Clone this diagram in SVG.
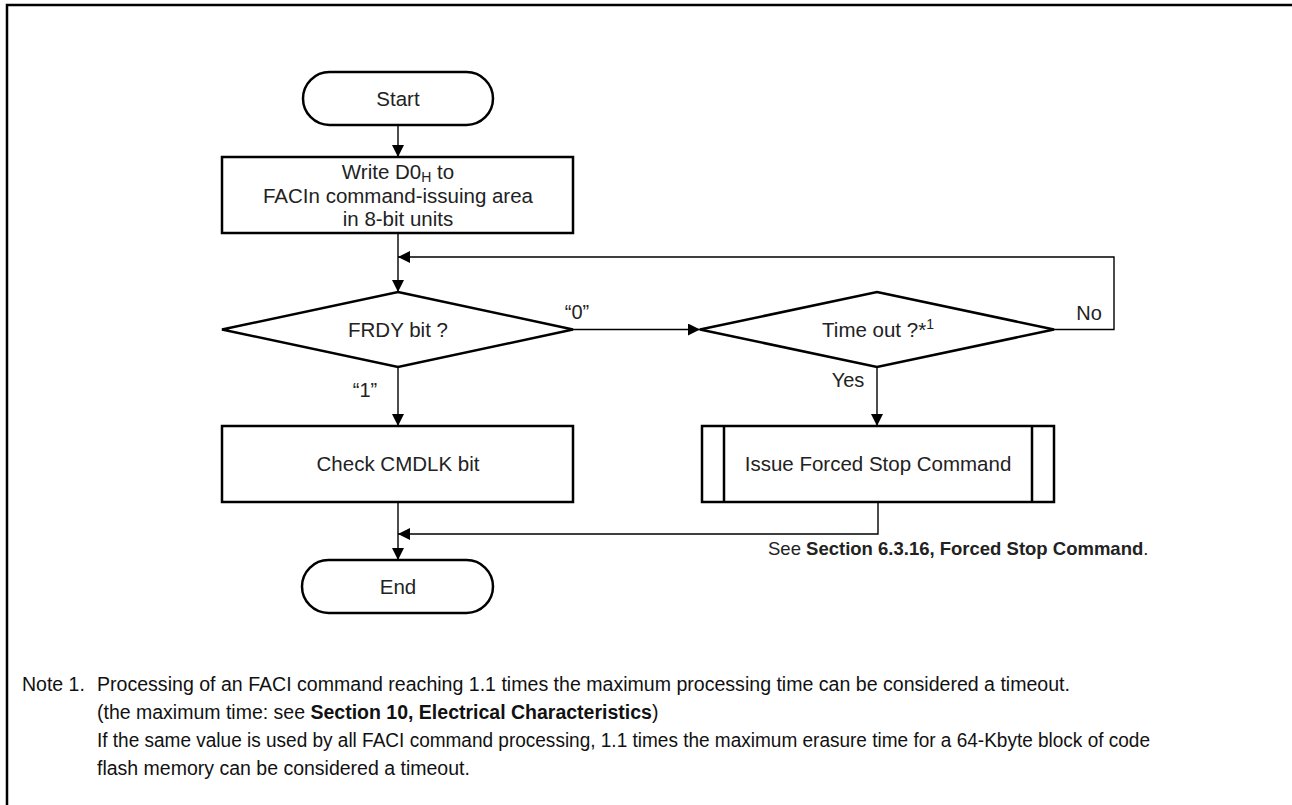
<svg xmlns="http://www.w3.org/2000/svg" width="1292" height="805" viewBox="0 0 1292 805">
<defs>
<marker id="arr" viewBox="0 0 12 12" refX="12" refY="6" markerWidth="12" markerHeight="12" markerUnits="userSpaceOnUse" orient="auto">
<path d="M0,0 L12,6 L0,12 Z" fill="#000"/>
</marker>
<style>
.shape{fill:#fff;stroke:#000;stroke-width:2.5}
.conn{fill:none;stroke:#000;stroke-width:1.4}
.t{font-family:"Liberation Sans",Arial,sans-serif;font-size:20.5px;fill:#222;text-anchor:middle}
.lbl{font-family:"Liberation Sans",Arial,sans-serif;font-size:20px;fill:#222}
.see{font-family:"Liberation Sans",Arial,sans-serif;font-size:18.5px;fill:#222}
.note{font-family:"Liberation Sans",Arial,sans-serif;font-size:19.5px;fill:#111}
.b{font-weight:bold}
</style>
</defs>
<rect width="1292" height="805" fill="#fff"/>
<path d="M7,805 V5 H1292" fill="none" stroke="#000" stroke-width="2.5"/>

<g id="connectors">
<path class="conn" d="M398,125 V157" marker-end="url(#arr)"/>
<path class="conn" d="M398,233 V292" marker-end="url(#arr)"/>
<path class="conn" d="M573,329.5 H700" marker-end="url(#arr)"/>
<path class="conn" d="M1054,329.5 H1114 V257 H398" marker-end="url(#arr)"/>
<path class="conn" d="M398,367 V426" marker-end="url(#arr)"/>
<path class="conn" d="M877,367 V426" marker-end="url(#arr)"/>
<path class="conn" d="M398,502 V560" marker-end="url(#arr)"/>
<path class="conn" d="M878,502 V534 H398" marker-end="url(#arr)"/>
<text class="lbl" x="577" y="319" text-anchor="middle">“0”</text>
<text class="lbl" x="365" y="397" text-anchor="middle">“1”</text>
<text class="lbl" x="1089" y="320" text-anchor="middle">No</text>
<text class="lbl" x="848" y="387" text-anchor="middle">Yes</text>
</g>

<g id="start">
<rect class="shape" x="303" y="72" width="190" height="53" rx="26.5"/>
<text class="t" x="398" y="106">Start</text>
</g>

<g id="write">
<rect class="shape" x="222" y="157" width="351" height="76"/>
<text class="t" x="398" y="179">Write D0<tspan font-size="14" dy="3">H</tspan><tspan dy="-3"> to</tspan></text>
<text class="t" x="398" y="203">FACIn command-issuing area</text>
<text class="t" x="398" y="226">in 8-bit units</text>
</g>

<g id="frdy">
<polygon class="shape" points="398,292 573,329.5 398,367 222,329.5"/>
<text class="t" x="398" y="337">FRDY bit ?</text>
</g>

<g id="check">
<rect class="shape" x="222" y="426" width="351" height="76"/>
<text class="t" x="398" y="471">Check CMDLK bit</text>
</g>

<g id="end">
<rect class="shape" x="302" y="560" width="191" height="53" rx="26.5"/>
<text class="t" x="398" y="594">End</text>
</g>

<g id="timeout">
<polygon class="shape" points="877,292 1054,329.5 877,367 700,329.5"/>
<text class="t" x="878" y="337">Time out ?*<tspan font-size="14" dy="-8">1</tspan></text>
</g>

<g id="forced">
<rect class="shape" x="702" y="426" width="352" height="76"/>
<path class="shape" d="M724,426 V502 M1032,426 V502"/>
<text class="t" x="878" y="471">Issue Forced Stop Command</text>
</g>

<g id="ref">
<text class="see" x="768" y="555">See <tspan class="b">Section 6.3.16, Forced Stop Command</tspan>.</text>
</g>

<g id="notes">
<text class="note" x="22" y="691">Note 1.</text>
<text class="note" x="97" y="691" textLength="973" lengthAdjust="spacingAndGlyphs">Processing of an FACI command reaching 1.1 times the maximum processing time can be considered a timeout.</text>
<text class="note" x="97" y="719">(the maximum time: see <tspan class="b">Section 10, Electrical Characteristics</tspan>)</text>
<text class="note" x="97" y="747" textLength="1053" lengthAdjust="spacingAndGlyphs">If the same value is used by all FACI command processing, 1.1 times the maximum erasure time for a 64-Kbyte block of code</text>
<text class="note" x="97" y="775">flash memory can be considered a timeout.</text>
</g>
</svg>
